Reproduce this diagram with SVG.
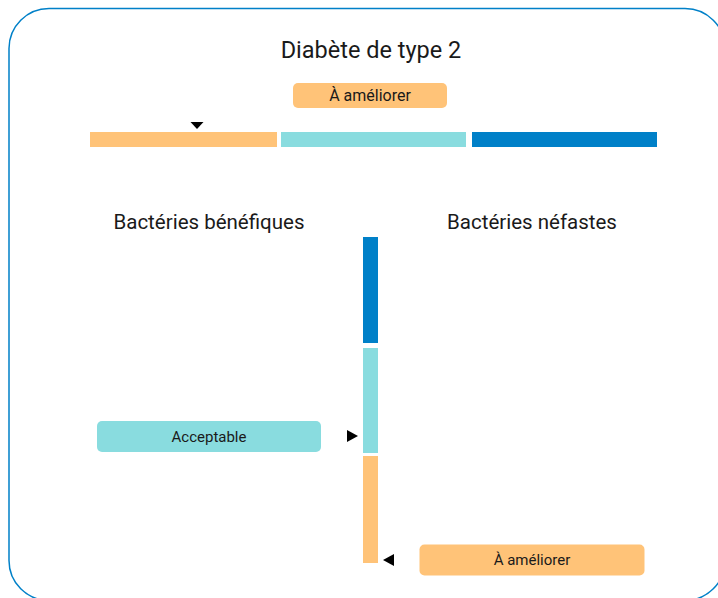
<svg xmlns="http://www.w3.org/2000/svg" width="718" height="598" viewBox="0 0 718 598">
<style>
text{font-family:Roboto,"Liberation Sans",sans-serif;fill:#1a1a1a;text-anchor:middle;dominant-baseline:central}
.t{font-size:23.5px}
.h{font-size:20.5px}
.b{font-size:15px}
.bt{font-size:16px}
.o{fill:#FFC378}
.c{fill:#89DCDF}
.d{fill:#0080C8}
.m{fill:#000}
</style>
<rect x="9" y="8.5" width="716" height="592" rx="40" fill="#fff" stroke="#0080C8" stroke-width="1.5"/>
<g id="title"><text class="t" x="371" y="50">Diabète de type 2</text></g>
<g id="badge-top"><rect class="o" x="293" y="83" width="154" height="25" rx="5"/><text class="bt" x="370" y="95.5">À améliorer</text></g>
<g id="bar-horizontal">
<rect class="o" x="90" y="132" width="187" height="15"/>
<rect class="c" x="281" y="132" width="185" height="15"/>
<rect class="d" x="472" y="132" width="185" height="15"/>
</g>
<g id="label-benefiques"><text class="h" x="209" y="222">Bactéries bénéfiques</text></g>
<g id="label-nefastes"><text class="h" x="532" y="222">Bactéries néfastes</text></g>
<g id="bar-vertical">
<rect class="d" x="363" y="237" width="15" height="106"/>
<rect class="c" x="363" y="348" width="15" height="105"/>
<rect class="o" x="363" y="456" width="15" height="107"/>
</g>
<g id="badge-acceptable"><rect class="c" x="97" y="421" width="224" height="31" rx="5"/><text class="b" x="209" y="437">Acceptable</text></g>
<g id="badge-bottom"><rect class="o" x="419.5" y="544.5" width="225" height="31" rx="5"/><text class="b" x="532" y="560">À améliorer</text></g>
<g id="markers">
<polygon class="m" points="190.5,122 203.5,122 197,129"/>
<polygon class="m" points="347,430 358,436 347,442"/>
<polygon class="m" points="394,554 383,560 394,566"/>
</g>
</svg>
